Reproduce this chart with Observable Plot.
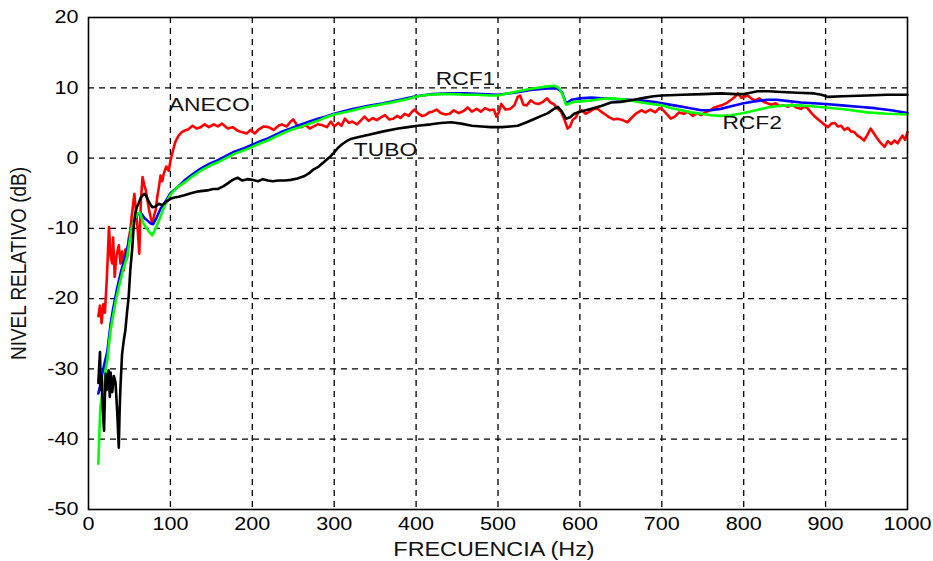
<!DOCTYPE html>
<html><head><meta charset="utf-8">
<script src="https://cdn.jsdelivr.net/npm/d3@7"></script>
<script src="https://cdn.jsdelivr.net/npm/@observablehq/plot@0.6"></script>
<style>body{margin:0;background:#fff;} svg{display:block;}</style>
</head><body><div id="chart"></div>
<script>
// [frequency Hz, level dB]
const aneco = [[12,-22.5],[14,-21],[16,-23.5],[18,-20.8],[20,-22],[22,-18],[23,-15.5],[25,-9.8],[27,-14],[29,-15],[30,-11.3],[32,-16.9],[34,-14],[37,-12.4],[39,-15],[41,-13.3],[43,-16],[45,-13],[47,-14.3],[49,-11.5],[51,-10.3],[53,-8],[56,-5.1],[58,-7.7],[60,-10],[62,-13.6],[64,-6],[66,-2.7],[68,-3.8],[70,-4.6],[72,-6],[74,-7.4],[76,-8.5],[78,-9.3],[80,-8.2],[82,-7.4],[84,-5.5],[86,-4.1],[88,-2.5],[90,-3.3],[92,-2.2],[95,-1.2],[98,-1.8],[100,-0.4],[103,1.0],[106,2.3],[110,3.2],[114,3.7],[117,3.9],[122,4.1],[127,4.6],[132,4.2],[137,4.4],[142,4.8],[147,4.4],[153,4.8],[158,4.5],[163,4.9],[170,4.2],[176,4.4],[182,3.9],[187,3.7],[193,3.5],[198,4.0],[203,3.5],[208,4.1],[214,4.5],[220,4.4],[226,4.0],[232,4.6],[236,4.8],[242,4.5],[247,5.2],[250,5.5],[255,4.6],[260,4.4],[265,4.7],[270,4.2],[275,4.5],[280,4.8],[285,4.7],[291,4.4],[296,5.2],[300,4.5],[305,5.0],[309,4.6],[313,5.6],[318,5.0],[322,5.2],[328,4.8],[333,5.4],[337,5.9],[342,5.3],[347,5.7],[352,5.4],[357,5.8],[362,6.1],[367,5.5],[372,5.6],[377,6.0],[381,5.7],[386,6.3],[391,6.0],[395,6.6],[398,6.9],[402,6.4],[407,6.0],[411,6.1],[416,6.5],[420,6.6],[425,6.9],[430,6.4],[436,6.2],[441,6.3],[446,6.8],[452,6.4],[458,6.7],[463,7.2],[468,6.6],[474,7.0],[479,6.6],[484,7.1],[490,6.8],[495,6.9],[498,5.9],[501,6.5],[504,7.7],[509,6.9],[515,7.0],[520,7.5],[524,8.7],[527,8.9],[531,7.6],[535,7.5],[540,8.2],[545,7.8],[550,7.7],[555,8.0],[560,8.5],[564,7.9],[568,7.7],[573,7.0],[577,6.6],[581,5.5],[585,4.2],[588,4.5],[591,5.4],[595,5.8],[598,6.5],[602,6.8],[607,6.3],[612,6.6],[617,7.0],[622,7.0],[626,6.6],[631,6.2],[636,5.8],[641,5.5],[646,5.6],[652,5.4],[658,5.1],[663,5.7],[668,6.3],[675,6.8],[680,6.5],[686,6.9],[692,6.5],[697,7.1],[700,7.0],[705,6.4],[711,5.6],[716,5.9],[721,6.5],[727,6.3],[732,6.6],[738,6.0],[743,6.4],[748,6.1],[753,6.5],[759,6.8],[764,7.2],[770,7.4],[775,7.6],[780,7.9],[786,8.4],[790,8.8],[793,9.2],[797,8.6],[800,8.7],[805,8.9],[809,8.5],[814,8.2],[819,8.5],[824,8.0],[829,7.8],[834,7.6],[839,7.8],[844,7.4],[849,7.5],[854,7.3],[859,7.6],[864,7.2],[870,7.0],[874,7.3],[878,7.1],[882,6.5],[886,6.0],[890,5.6],[894,5.2],[898,4.8],[903,4.4],[907,4.9],[911,5.0],[915,4.5],[919,4.6],[923,4.0],[927,4.3],[931,3.8],[935,3.7],[939,3.2],[943,2.9],[947,2.5],[951,3.3],[955,4.2],[959,3.5],[963,2.8],[967,2.2],[972,1.6],[976,2.4],[980,2.0],[984,2.5],[988,2.1],[991,2.7],[994,3.2],[997,2.6],[1000,3.7]];

const rcf2 = [[12,-33.5],[14,-32.5],[17,-30.5],[20,-29],[23,-27.5],[27,-23.6],[30,-21.5],[35,-18.5],[40,-16],[45,-14],[50,-11.5],[55,-9],[60,-8],[64,-7.8],[68,-8.5],[72,-8.9],[76,-9.3],[79,-9.4],[83,-8.5],[88,-7.2],[95,-6.0],[100,-5.0],[110,-4.0],[117,-3.2],[127,-2.3],[137,-1.5],[148,-0.8],[158,-0.3],[168,0.3],[178,0.9],[190,1.4],[200,1.9],[210,2.4],[219,2.8],[235,3.7],[247,4.2],[258,4.7],[270,5.2],[280,5.6],[290,5.9],[300,6.3],[320,6.9],[340,7.4],[360,7.8],[380,8.3],[400,8.8],[420,9.1],[440,9.2],[460,9.2],[480,9.1],[500,9.0],[520,9.3],[540,9.7],[560,9.9],[572,9.9],[578,9.4],[583,7.8],[590,8.3],[600,8.5],[614,8.6],[626,8.5],[640,8.4],[660,8.3],[675,8.2],[690,8.0],[700,7.8],[715,7.5],[730,7.2],[748,6.8],[760,6.8],[772,7.0],[786,7.4],[800,7.8],[815,8.1],[829,8.3],[840,8.3],[855,8.1],[870,7.9],[885,7.8],[900,7.7],[920,7.5],[940,7.3],[960,7.1],[980,6.8],[1000,6.4]];

const rcf1 = [[12,-43.5],[13,-40],[14.5,-35.3],[17,-33.5],[19,-32.6],[21,-30],[23,-28.8],[25,-26.4],[27,-24.5],[29,-23.1],[33,-20.5],[37,-18.4],[42,-16],[47,-14.1],[50,-12],[53,-9.8],[57,-8.5],[60,-7.9],[63,-7.8],[67,-9.3],[71,-10],[74,-10.5],[78,-11],[82,-10],[86,-8.9],[91,-7.4],[95,-6.3],[100,-5.2],[108,-4.2],[117,-3.5],[127,-2.6],[137,-1.8],[148,-1.1],[158,-0.6],[168,0.0],[178,0.6],[190,1.1],[200,1.6],[210,2.1],[219,2.5],[235,3.4],[247,4.0],[258,4.4],[270,4.9],[280,5.3],[290,5.8],[300,6.2],[320,6.7],[337,7.2],[360,7.7],[378,8.1],[390,8.4],[402,8.8],[415,9.0],[430,9.1],[445,9.1],[459,9.0],[475,9.0],[490,8.9],[500,8.9],[512,9.2],[525,9.5],[537,9.8],[549,10.0],[560,10.2],[569,10.3],[575,9.9],[579,9.0],[583,7.6],[588,7.8],[593,8.0],[605,8.1],[614,8.2],[626,8.4],[638,8.5],[650,8.4],[662,8.2],[675,7.9],[688,7.7],[700,7.5],[712,7.1],[724,6.8],[736,6.5],[748,6.3],[760,6.1],[772,6.0],[785,6.1],[800,6.4],[815,6.8],[829,7.2],[842,7.4],[854,7.5],[866,7.5],[880,7.4],[900,7.2],[925,6.9],[951,6.5],[975,6.3],[1000,6.2]];

const tubo = [[12,-32],[13,-29.7],[14,-27.6],[15,-33],[16,-31],[17,-35],[19,-38.8],[20,-34],[21,-30.7],[22,-33],[23,-32.6],[24.5,-30.2],[26,-34],[27,-30.5],[29,-33.3],[31,-31],[33,-31.9],[35,-36],[37,-41.2],[38,-36],[39,-32.6],[41,-27.9],[43,-26],[45,-24.5],[47,-22],[49,-19.8],[51,-16],[53.5,-12.7],[55,-10],[57,-7.9],[59,-7],[61,-6.5],[64,-5.6],[68,-5.1],[70,-5.3],[72,-5.8],[75,-6.5],[78,-7.0],[82,-6.9],[86,-6.5],[90,-6.7],[95,-6.2],[100,-5.8],[105,-5.6],[110,-5.5],[117,-5.3],[125,-5.0],[132,-4.8],[137,-4.7],[145,-4.6],[152,-4.4],[158,-4.4],[165,-4.0],[170,-3.6],[176,-3.1],[182,-2.8],[188,-3.2],[194,-3.0],[200,-3.1],[207,-3.3],[213,-3.0],[219,-3.2],[225,-3.3],[232,-3.2],[240,-3.2],[247,-3.1],[255,-2.9],[263,-2.6],[270,-2.1],[275,-1.6],[280,-1.3],[285,-0.8],[290,-0.3],[296,0.3],[300,0.8],[305,1.5],[310,2.0],[315,2.4],[320,2.7],[330,3.0],[345,3.4],[360,3.8],[378,4.2],[390,4.4],[402,4.6],[418,4.8],[430,5.0],[443,5.1],[455,4.9],[468,4.6],[480,4.5],[491,4.4],[505,4.4],[515,4.5],[524,4.6],[535,5.1],[545,5.6],[553,6.0],[561,6.4],[567,6.9],[573,7.3],[578,6.6],[583,5.6],[588,5.8],[593,6.3],[600,6.6],[607,6.8],[614,7.0],[626,7.4],[638,7.9],[650,8.0],[666,8.3],[680,8.6],[690,8.8],[700,8.9],[725,9.0],[750,9.1],[772,9.2],[790,9.1],[800,9.1],[808,9.3],[817,9.5],[830,9.5],[846,9.4],[866,9.3],[886,9.2],[895,9.0],[903,8.7],[920,8.8],[950,8.9],[975,9.0],[1000,9.0]];

const xTicks = [0,100,200,300,400,500,600,700,800,900,1000];
const yTicks = [-50,-40,-30,-20,-10,0,10,20];
const seriesNames = ["ANECO","RCF1","TUBO","RCF2"];
const seriesLabelF = [98,424,324,774];
const seriesLabelDb = [7.6,11.2,1.1,5.0];
const xLabel = "FRECUENCIA (Hz)";
const yLabel = "NIVEL RELATIVO (dB)";

const toRows = (arr) => arr.map(([f, db]) => ({f, db}));
const labelRows = seriesNames.map((name, i) => ({name, f: seriesLabelF[i], db: seriesLabelDb[i]}));
const fmt = (d) => String(d);

const chart = Plot.plot({
  width: 933, height: 561,
  marginLeft: 88, marginRight: 26, marginTop: 17, marginBottom: 52,
  style: {fontFamily: "'Liberation Sans', Arial, sans-serif", fontSize: "18px", color: "#000", background: "#fff", overflow: "visible"},
  x: {domain: [0, 1000]},
  y: {domain: [-50, 20]},
  marks: [
    Plot.gridX(xTicks.slice(1, -1), {stroke: "#000", strokeOpacity: 1, strokeWidth: 1.3, strokeDasharray: "6,5"}),
    Plot.gridY(yTicks.slice(1, -1), {stroke: "#000", strokeOpacity: 1, strokeWidth: 1.3, strokeDasharray: "6,5"}),
    Plot.axisX(xTicks, {tickSize: 0, tickPadding: 8, tickFormat: fmt, label: null, fontSize: 18}),
    Plot.axisY(yTicks, {tickSize: 0, tickPadding: 10, tickFormat: fmt, label: null, fontSize: 18}),
    Plot.line(toRows(aneco), {x: "f", y: "db", stroke: "#ff0000", strokeWidth: 2.6}),
    Plot.line(toRows(rcf2), {x: "f", y: "db", stroke: "#0000ff", strokeWidth: 2.6}),
    Plot.line(toRows(rcf1), {x: "f", y: "db", stroke: "#00ff00", strokeWidth: 2.6}),
    Plot.line(toRows(tubo), {x: "f", y: "db", stroke: "#000000", strokeWidth: 2.6}),
    Plot.frame({stroke: "#000", strokeWidth: 1.6}),
    Plot.text(labelRows, {x: "f", y: "db", text: "name", textAnchor: "start", lineAnchor: "middle", fontSize: 19, fill: "#111"}),
    Plot.text([xLabel], {frameAnchor: "bottom", dy: 40, dx: -4, lineAnchor: "middle", fontSize: 19.5, fill: "#111"}),
    Plot.text([yLabel], {frameAnchor: "left", dx: -70, rotate: -90, lineAnchor: "middle", textAnchor: "middle", fontSize: 19, fill: "#111"})
  ]
});

// The reference image is horizontally stretched (~1.2x); stretch text glyphs the same way.
chart.querySelectorAll("text").forEach((t) => {
  const tr = t.getAttribute("transform") || "";
  t.setAttribute("transform", tr + (tr.includes("rotate") ? " scale(1,1.2)" : " scale(1.2,1)"));
});

document.getElementById("chart").appendChild(chart);
</script>
</body></html>
